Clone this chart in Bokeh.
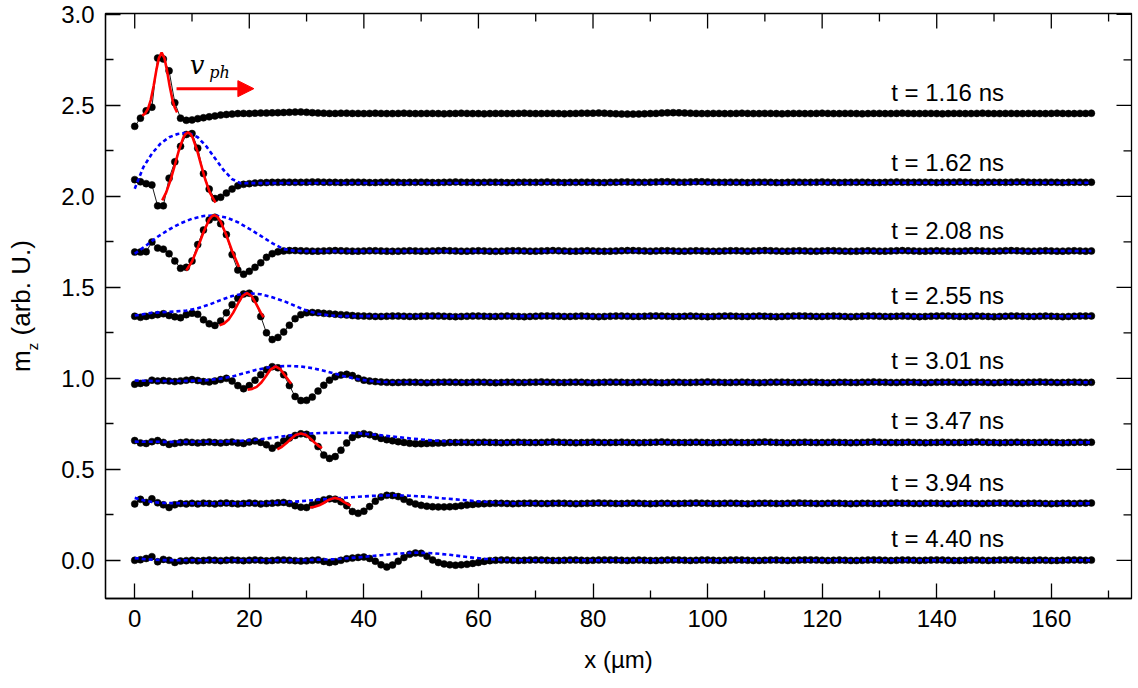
from bokeh.plotting import figure
from bokeh.layouts import row
from bokeh.models import (ColumnDataSource, FixedTicker, Range1d, Label, Div,
                          Arrow, NormalHead, PrintfTickFormatter)
from bokeh.core.properties import value
from bokeh.embed import file_html
from bokeh.resources import INLINE

# ---------------- data ----------------
x_um = list(range(0, 168))

times = ["t = 1.16 ns", "t = 1.62 ns", "t = 2.08 ns", "t = 2.55 ns",
         "t = 3.01 ns", "t = 3.47 ns", "t = 3.94 ns", "t = 4.40 ns"]

mz_116 = [
    2.385, 2.430, 2.470, 2.490, 2.760, 2.755, 2.690, 2.515, 2.430, 2.418,
    2.420, 2.427, 2.432, 2.437, 2.442, 2.447, 2.450, 2.452, 2.455, 2.456,
    2.455, 2.457, 2.458, 2.458, 2.459, 2.460, 2.461, 2.462, 2.463, 2.464,
    2.462, 2.460, 2.458, 2.457, 2.456, 2.456, 2.457, 2.457, 2.456, 2.456,
    2.455, 2.456, 2.457, 2.456, 2.455, 2.455, 2.456, 2.457, 2.456, 2.455,
    2.455, 2.456, 2.456, 2.455, 2.454, 2.455, 2.456, 2.457, 2.456, 2.455,
    2.455, 2.454, 2.455, 2.456, 2.456, 2.455, 2.455, 2.456, 2.457, 2.456,
    2.455, 2.455, 2.456, 2.456, 2.455, 2.454, 2.455, 2.456, 2.457, 2.457,
    2.457, 2.458, 2.457, 2.455, 2.454, 2.453, 2.452, 2.452, 2.453, 2.454,
    2.455, 2.456, 2.458, 2.459, 2.460, 2.459, 2.458, 2.457, 2.456, 2.455,
    2.455, 2.456, 2.456, 2.455, 2.455, 2.456, 2.457, 2.456, 2.455, 2.455,
    2.456, 2.456, 2.455, 2.454, 2.455, 2.456, 2.456, 2.455, 2.455, 2.456,
    2.457, 2.456, 2.455, 2.455, 2.456, 2.456, 2.455, 2.454, 2.455, 2.456,
    2.456, 2.455, 2.455, 2.456, 2.457, 2.456, 2.455, 2.455, 2.456, 2.456,
    2.455, 2.454, 2.455, 2.456, 2.456, 2.455, 2.455, 2.456, 2.457, 2.456,
    2.455, 2.455, 2.456, 2.456, 2.455, 2.455, 2.456, 2.456, 2.455, 2.455,
    2.456, 2.457, 2.456, 2.455, 2.455, 2.456, 2.456, 2.457]

mz_162 = [
    2.092, 2.080, 2.070, 2.063, 1.948, 1.948, 2.100, 2.190, 2.275, 2.340,
    2.345, 2.265, 2.125, 2.040, 1.988, 1.995, 2.018, 2.040, 2.058, 2.066,
    2.070, 2.073, 2.075, 2.076, 2.077, 2.077, 2.078, 2.078, 2.077, 2.077,
    2.078, 2.079, 2.079, 2.078, 2.077, 2.077, 2.076, 2.077, 2.078, 2.078,
    2.077, 2.076, 2.076, 2.077, 2.078, 2.078, 2.077, 2.076, 2.077, 2.077,
    2.078, 2.077, 2.076, 2.076, 2.077, 2.078, 2.079, 2.078, 2.077, 2.077,
    2.076, 2.077, 2.078, 2.078, 2.077, 2.076, 2.076, 2.077, 2.078, 2.077,
    2.077, 2.078, 2.079, 2.078, 2.077, 2.076, 2.077, 2.077, 2.078, 2.078,
    2.077, 2.076, 2.076, 2.077, 2.078, 2.079, 2.079, 2.078, 2.077, 2.077,
    2.078, 2.079, 2.080, 2.080, 2.079, 2.078, 2.078, 2.079, 2.080, 2.080,
    2.079, 2.078, 2.077, 2.077, 2.078, 2.078, 2.077, 2.076, 2.077, 2.078,
    2.078, 2.077, 2.076, 2.076, 2.077, 2.078, 2.078, 2.077, 2.077, 2.078,
    2.079, 2.078, 2.077, 2.076, 2.077, 2.077, 2.078, 2.078, 2.077, 2.076,
    2.076, 2.077, 2.078, 2.079, 2.078, 2.077, 2.077, 2.078, 2.078, 2.077,
    2.076, 2.077, 2.077, 2.078, 2.079, 2.078, 2.077, 2.076, 2.077, 2.078,
    2.078, 2.077, 2.077, 2.078, 2.079, 2.079, 2.078, 2.077, 2.077, 2.078,
    2.078, 2.077, 2.076, 2.077, 2.078, 2.078, 2.077, 2.078]

mz_208 = [
    1.694, 1.694, 1.696, 1.749, 1.716, 1.710, 1.685, 1.645, 1.605, 1.610,
    1.645, 1.735, 1.815, 1.870, 1.885, 1.850, 1.790, 1.680, 1.595, 1.572,
    1.588, 1.610, 1.635, 1.665, 1.685, 1.695, 1.700, 1.702, 1.702, 1.701,
    1.700, 1.699, 1.699, 1.700, 1.701, 1.702, 1.701, 1.700, 1.699, 1.699,
    1.700, 1.701, 1.701, 1.700, 1.699, 1.698, 1.699, 1.700, 1.701, 1.700,
    1.699, 1.699, 1.700, 1.701, 1.702, 1.701, 1.700, 1.699, 1.699, 1.700,
    1.701, 1.700, 1.699, 1.698, 1.699, 1.700, 1.701, 1.701, 1.700, 1.699,
    1.699, 1.700, 1.701, 1.702, 1.701, 1.700, 1.699, 1.699, 1.700, 1.701,
    1.700, 1.699, 1.698, 1.699, 1.700, 1.701, 1.702, 1.702, 1.701, 1.700,
    1.699, 1.700, 1.701, 1.701, 1.700, 1.699, 1.699, 1.700, 1.701, 1.700,
    1.699, 1.698, 1.699, 1.700, 1.701, 1.701, 1.700, 1.699, 1.700, 1.701,
    1.702, 1.701, 1.700, 1.699, 1.699, 1.700, 1.701, 1.700, 1.699, 1.699,
    1.700, 1.701, 1.701, 1.700, 1.699, 1.698, 1.699, 1.700, 1.701, 1.700,
    1.699, 1.699, 1.700, 1.701, 1.702, 1.701, 1.700, 1.699, 1.699, 1.700,
    1.701, 1.700, 1.699, 1.698, 1.699, 1.700, 1.701, 1.701, 1.700, 1.699,
    1.699, 1.700, 1.701, 1.702, 1.701, 1.700, 1.699, 1.699, 1.700, 1.701,
    1.700, 1.699, 1.699, 1.700, 1.701, 1.700, 1.699, 1.700]

mz_255 = [
    1.341, 1.335, 1.340, 1.345, 1.350, 1.355, 1.345, 1.338, 1.333, 1.350,
    1.358, 1.352, 1.322, 1.300, 1.291, 1.315, 1.360, 1.405, 1.440, 1.463,
    1.468, 1.435, 1.340, 1.250, 1.213, 1.225, 1.255, 1.292, 1.328, 1.350,
    1.360, 1.362, 1.360, 1.357, 1.355, 1.352, 1.350, 1.348, 1.345, 1.343,
    1.342, 1.341, 1.340, 1.340, 1.341, 1.342, 1.342, 1.341, 1.340, 1.340,
    1.341, 1.342, 1.343, 1.342, 1.341, 1.340, 1.339, 1.340, 1.341, 1.342,
    1.342, 1.341, 1.340, 1.340, 1.341, 1.342, 1.341, 1.340, 1.339, 1.340,
    1.341, 1.342, 1.343, 1.342, 1.341, 1.340, 1.340, 1.341, 1.342, 1.341,
    1.340, 1.339, 1.340, 1.341, 1.342, 1.342, 1.341, 1.340, 1.340, 1.341,
    1.342, 1.343, 1.342, 1.341, 1.340, 1.340, 1.341, 1.342, 1.341, 1.340,
    1.339, 1.340, 1.341, 1.342, 1.342, 1.341, 1.340, 1.340, 1.341, 1.342,
    1.341, 1.340, 1.339, 1.340, 1.341, 1.342, 1.343, 1.342, 1.341, 1.340,
    1.340, 1.341, 1.342, 1.341, 1.340, 1.339, 1.340, 1.341, 1.342, 1.342,
    1.341, 1.340, 1.340, 1.341, 1.342, 1.341, 1.340, 1.339, 1.340, 1.341,
    1.342, 1.343, 1.342, 1.341, 1.340, 1.340, 1.341, 1.342, 1.341, 1.340,
    1.339, 1.340, 1.341, 1.342, 1.342, 1.341, 1.340, 1.340, 1.341, 1.342,
    1.341, 1.340, 1.339, 1.340, 1.341, 1.342, 1.342, 1.343]

mz_301 = [
    0.968, 0.972, 0.975, 0.990, 0.985, 0.988, 0.985, 0.982, 0.986, 0.990,
    0.993, 0.988, 0.982, 0.980, 0.985, 0.993, 1.000, 0.985, 0.960, 0.943,
    0.960, 0.990, 1.020, 1.047, 1.064, 1.058, 1.020, 0.960, 0.900, 0.878,
    0.879, 0.897, 0.930, 0.962, 0.990, 1.008, 1.018, 1.022, 1.015, 1.000,
    0.990, 0.985, 0.982, 0.980, 0.978, 0.977, 0.977, 0.978, 0.979, 0.978,
    0.977, 0.976, 0.977, 0.978, 0.979, 0.979, 0.978, 0.977, 0.977, 0.978,
    0.979, 0.978, 0.977, 0.976, 0.977, 0.978, 0.978, 0.977, 0.977, 0.978,
    0.979, 0.980, 0.979, 0.978, 0.977, 0.977, 0.978, 0.979, 0.978, 0.977,
    0.976, 0.977, 0.978, 0.979, 0.979, 0.978, 0.977, 0.977, 0.978, 0.979,
    0.978, 0.977, 0.976, 0.977, 0.978, 0.978, 0.977, 0.977, 0.978, 0.979,
    0.980, 0.979, 0.978, 0.977, 0.977, 0.978, 0.979, 0.978, 0.977, 0.976,
    0.977, 0.978, 0.979, 0.979, 0.978, 0.977, 0.977, 0.978, 0.979, 0.978,
    0.977, 0.976, 0.977, 0.978, 0.978, 0.977, 0.977, 0.978, 0.979, 0.980,
    0.979, 0.978, 0.977, 0.977, 0.978, 0.979, 0.978, 0.977, 0.976, 0.977,
    0.978, 0.979, 0.979, 0.978, 0.977, 0.977, 0.978, 0.979, 0.978, 0.977,
    0.976, 0.977, 0.978, 0.978, 0.977, 0.977, 0.978, 0.979, 0.980, 0.979,
    0.978, 0.977, 0.977, 0.978, 0.979, 0.978, 0.977, 0.978]

mz_347 = [
    0.658, 0.645, 0.642, 0.652, 0.658, 0.648, 0.637, 0.642, 0.647, 0.650,
    0.648, 0.645, 0.648, 0.650, 0.647, 0.645, 0.648, 0.650, 0.645, 0.642,
    0.650, 0.656, 0.648, 0.635, 0.616, 0.632, 0.655, 0.672, 0.686, 0.695,
    0.692, 0.672, 0.625, 0.578, 0.560, 0.570, 0.605, 0.645, 0.675, 0.690,
    0.696, 0.690, 0.680, 0.670, 0.663, 0.657, 0.652, 0.648, 0.643, 0.641,
    0.641, 0.642, 0.643, 0.644, 0.645, 0.647, 0.647, 0.648, 0.648, 0.647,
    0.648, 0.649, 0.648, 0.647, 0.646, 0.647, 0.648, 0.649, 0.648, 0.647,
    0.647, 0.648, 0.649, 0.650, 0.649, 0.648, 0.647, 0.646, 0.647, 0.648,
    0.649, 0.648, 0.647, 0.647, 0.648, 0.649, 0.648, 0.647, 0.646, 0.647,
    0.648, 0.649, 0.650, 0.649, 0.648, 0.647, 0.647, 0.648, 0.649, 0.648,
    0.647, 0.646, 0.647, 0.648, 0.649, 0.648, 0.647, 0.647, 0.648, 0.649,
    0.650, 0.649, 0.648, 0.647, 0.646, 0.647, 0.648, 0.649, 0.648, 0.647,
    0.647, 0.648, 0.649, 0.648, 0.647, 0.646, 0.647, 0.648, 0.649, 0.650,
    0.649, 0.648, 0.647, 0.647, 0.648, 0.649, 0.648, 0.647, 0.646, 0.647,
    0.648, 0.649, 0.648, 0.647, 0.647, 0.648, 0.649, 0.650, 0.649, 0.648,
    0.647, 0.646, 0.647, 0.648, 0.649, 0.648, 0.647, 0.647, 0.648, 0.649,
    0.648, 0.647, 0.646, 0.647, 0.648, 0.649, 0.648, 0.649]

mz_394 = [
    0.310, 0.335, 0.318, 0.338, 0.316, 0.305, 0.290, 0.305, 0.312, 0.310,
    0.313, 0.310, 0.314, 0.312, 0.310, 0.313, 0.315, 0.312, 0.310, 0.312,
    0.315, 0.313, 0.310, 0.312, 0.314, 0.316, 0.318, 0.312, 0.300, 0.292,
    0.290, 0.305, 0.322, 0.332, 0.338, 0.336, 0.322, 0.300, 0.268, 0.258,
    0.270, 0.295, 0.325, 0.348, 0.357, 0.356, 0.350, 0.335, 0.320, 0.310,
    0.302, 0.297, 0.294, 0.293, 0.293, 0.294, 0.296, 0.300, 0.304, 0.307,
    0.310, 0.311, 0.312, 0.313, 0.313, 0.312, 0.311, 0.312, 0.313, 0.314,
    0.313, 0.312, 0.312, 0.313, 0.314, 0.313, 0.312, 0.311, 0.312, 0.313,
    0.314, 0.315, 0.314, 0.313, 0.312, 0.312, 0.313, 0.314, 0.313, 0.312,
    0.311, 0.312, 0.313, 0.313, 0.312, 0.312, 0.313, 0.314, 0.315, 0.314,
    0.313, 0.312, 0.312, 0.313, 0.314, 0.313, 0.312, 0.311, 0.312, 0.313,
    0.314, 0.313, 0.312, 0.312, 0.313, 0.314, 0.315, 0.314, 0.313, 0.312,
    0.312, 0.313, 0.314, 0.313, 0.312, 0.311, 0.312, 0.313, 0.313, 0.312,
    0.312, 0.313, 0.314, 0.315, 0.314, 0.313, 0.312, 0.312, 0.313, 0.314,
    0.313, 0.312, 0.311, 0.312, 0.313, 0.314, 0.313, 0.312, 0.312, 0.313,
    0.314, 0.315, 0.314, 0.313, 0.312, 0.312, 0.313, 0.314, 0.313, 0.312,
    0.311, 0.312, 0.313, 0.313, 0.312, 0.313, 0.314, 0.315]

mz_440 = [
    0.000, 0.003, 0.010, 0.020, -0.008, 0.005, 0.000, -0.012, -0.004, -0.002,
    0.000, -0.003, -0.001, 0.001, 0.000, -0.002, 0.000, 0.002, 0.000, -0.002,
    0.000, 0.002, 0.000, -0.003, -0.001, 0.001, 0.002, 0.000, -0.002, -0.004,
    -0.003, 0.000, 0.002, -0.006, -0.012, -0.008, 0.000, 0.008, 0.012, 0.016,
    0.018, 0.010, -0.005, -0.025, -0.037, -0.026, -0.005, 0.015, 0.033, 0.040,
    0.038, 0.022, 0.002, -0.012, -0.020, -0.025, -0.027, -0.025, -0.022, -0.017,
    -0.012, -0.006, -0.002, 0.000, 0.001, 0.001, 0.000, -0.001, 0.000, 0.001,
    0.002, 0.001, 0.000, -0.001, -0.001, 0.000, 0.001, 0.001, 0.000, -0.001,
    0.000, 0.001, 0.002, 0.002, 0.001, 0.000, -0.001, 0.000, 0.001, 0.000,
    -0.001, -0.001, 0.000, 0.001, 0.002, 0.001, 0.000, -0.001, 0.000, 0.001,
    0.001, 0.000, -0.001, 0.000, 0.001, 0.002, 0.001, 0.000, -0.001, -0.001,
    0.000, 0.001, 0.001, 0.000, -0.001, 0.000, 0.001, 0.002, 0.002, 0.001,
    0.000, -0.001, 0.000, 0.001, 0.000, -0.001, -0.001, 0.000, 0.001, 0.002,
    0.001, 0.000, -0.001, 0.000, 0.001, 0.001, 0.000, -0.001, 0.000, 0.001,
    0.002, 0.001, 0.000, -0.001, -0.001, 0.000, 0.001, 0.001, 0.000, -0.001,
    0.000, 0.001, 0.002, 0.002, 0.001, 0.000, -0.001, 0.000, 0.001, 0.000,
    -0.001, -0.001, 0.000, 0.001, 0.002, 0.001, 0.000, 0.001]

# dashed envelopes
env_162_x = [0, 1.5, 3, 4.5, 6, 7.5, 9.3, 11, 12.5, 14, 15.5, 17, 18.5, 20, 167]
env_162_y = [2.042, 2.160, 2.235, 2.290, 2.325, 2.343, 2.350, 2.325, 2.275, 2.210, 2.145, 2.095, 2.072, 2.073, 2.075]
env_208_x = [0, 2, 4, 6, 8, 10, 12, 13.9, 16, 18, 20, 22, 24, 26, 28, 30, 167]
env_208_y = [1.685, 1.730, 1.778, 1.818, 1.852, 1.877, 1.892, 1.896, 1.884, 1.858, 1.822, 1.783, 1.743, 1.710, 1.700, 1.699, 1.700]
env_255_x = [0, 3, 6, 9, 11, 13, 15, 17, 19.6, 22, 24, 26, 28, 30, 32, 34, 36, 167]
env_255_y = [1.345, 1.360, 1.365, 1.372, 1.385, 1.405, 1.430, 1.452, 1.469, 1.462, 1.445, 1.425, 1.398, 1.372, 1.355, 1.346, 1.342, 1.341]
env_301_x = [0, 4, 8, 12, 15, 17, 19, 21, 23, 25, 27, 29, 31, 33, 35, 37, 39, 41, 43, 167]
env_301_y = [0.988, 0.985, 0.985, 0.988, 0.998, 1.010, 1.027, 1.045, 1.058, 1.066, 1.068, 1.065, 1.056, 1.042, 1.025, 1.008, 0.995, 0.986, 0.980, 0.978]
env_347_x = [0, 5, 10, 15, 18, 21, 24, 27, 30, 33, 36, 39, 42, 45, 48, 51, 54, 57, 60, 167]
env_347_y = [0.652, 0.651, 0.651, 0.652, 0.655, 0.662, 0.673, 0.686, 0.696, 0.700, 0.701, 0.698, 0.690, 0.680, 0.670, 0.661, 0.654, 0.650, 0.648, 0.648]
env_394_x = [0, 1.5, 3, 5, 10, 15, 20, 24, 27, 30, 33, 36, 39, 42, 45, 48, 51, 54, 57, 60, 63, 66, 167]
env_394_y = [0.343, 0.330, 0.320, 0.315, 0.313, 0.313, 0.313, 0.315, 0.320, 0.327, 0.335, 0.342, 0.349, 0.355, 0.357, 0.355, 0.349, 0.340, 0.332, 0.324, 0.317, 0.313, 0.313]
env_440_x = [0, 2, 5, 10, 20, 30, 35, 39, 43, 46, 49, 52, 55, 58, 61, 64, 68, 167]
env_440_y = [0.012, 0.005, 0.001, 0.000, 0.000, 0.001, 0.006, 0.016, 0.028, 0.037, 0.042, 0.039, 0.030, 0.018, 0.008, 0.002, 0.000, 0.000]

# red peak fits
fit_116_x = [1.3, 1.8, 2.3, 2.8, 3.3, 3.8, 4.2, 4.7, 5.2, 5.6, 6.1, 6.6, 7.0, 7.4]
fit_116_y = [2.444, 2.455, 2.480, 2.529, 2.607, 2.698, 2.758, 2.790, 2.758, 2.698, 2.607, 2.529, 2.487, 2.462]
fit_162_x = [4.8, 5.5, 6.3, 7.0, 7.7, 8.5, 8.9, 9.3, 9.7, 10.1, 10.9, 11.6, 12.3, 13.1, 14.1]
fit_162_y = [1.978, 2.022, 2.094, 2.172, 2.252, 2.324, 2.344, 2.351, 2.344, 2.324, 2.252, 2.172, 2.094, 2.022, 1.965]
fit_208_x = [9.0, 10.0, 11.0, 12.0, 13.0, 13.45, 13.9, 14.4, 15.0, 16.0, 17.0, 18.2]
fit_208_y = [1.593, 1.642, 1.717, 1.803, 1.872, 1.890, 1.896, 1.889, 1.861, 1.786, 1.700, 1.612]
fit_255_x = [14.8, 15.6, 16.4, 17.2, 18.0, 18.8, 19.6, 20.4, 21.2, 22.0, 22.5]
fit_255_y = [1.291, 1.301, 1.323, 1.361, 1.409, 1.452, 1.469, 1.452, 1.409, 1.361, 1.336]
fit_301_x = [19.7, 20.5, 21.3, 22.1, 22.9, 23.7, 24.6, 25.4, 26.2, 27.3]
fit_301_y = [0.938, 0.942, 0.953, 0.977, 1.012, 1.048, 1.066, 1.051, 1.017, 0.970]
fit_347_x = [24.9, 25.7, 26.5, 27.3, 28.1, 29.0, 29.9, 30.7, 31.5, 32.2, 32.7]
fit_347_y = [0.610, 0.624, 0.644, 0.668, 0.688, 0.697, 0.688, 0.668, 0.644, 0.626, 0.616]
fit_394_x = [30.6, 31.4, 32.2, 33.0, 33.8, 34.9, 35.7, 36.5, 37.2, 37.7]
fit_394_y = [0.290, 0.294, 0.302, 0.315, 0.331, 0.343, 0.337, 0.321, 0.308, 0.300]

x_ticks = [0, 20, 40, 60, 80, 100, 120, 140, 160]
x_minor = [10, 30, 50, 70, 90, 110, 130, 150, 170]
y_ticks = [0.0, 0.5, 1.0, 1.5, 2.0, 2.5, 3.0]
y_minor = [0.25, 0.75, 1.25, 1.75, 2.25, 2.75]

# ---------------- positions / styles ----------------
X0, X1 = -5.1, 174.0
Y0, Y1 = -0.21, 3.005
label_x = [141.9] * 8
label_y = [2.573, 2.188, 1.813, 1.456, 1.099, 0.769, 0.430, 0.119]
FONT = "Liberation Sans"
MAJ_PX, MIN_PX = 15, 8

traces = [mz_116, mz_162, mz_208, mz_255, mz_301, mz_347, mz_394, mz_440]
envelopes = [(env_162_x, env_162_y), (env_208_x, env_208_y), (env_255_x, env_255_y),
             (env_301_x, env_301_y), (env_347_x, env_347_y), (env_394_x, env_394_y),
             (env_440_x, env_440_y)]
fits = [(fit_116_x, fit_116_y), (fit_162_x, fit_162_y), (fit_208_x, fit_208_y),
        (fit_255_x, fit_255_y), (fit_301_x, fit_301_y), (fit_347_x, fit_347_y),
        (fit_394_x, fit_394_y)]

TITLE_W = 40                      # width of the y-title strip left of the figure
W, H = 1138 - TITLE_W, 688
BL, BR, BT, BB = 105 - TITLE_W, 7, 13, 90
p = figure(width=W, height=H, output_backend="svg", toolbar_location=None,
           x_range=Range1d(X0, X1), y_range=Range1d(Y0, Y1),
           min_border_left=BL, min_border_right=BR, min_border_top=BT, min_border_bottom=BB,
           background_fill_color="white", border_fill_color="white")
p.xgrid.visible = False
p.ygrid.visible = False
p.outline_line_color = "black"
p.outline_line_width = 1.3


def style_axis(ax, ticks, minor):
    ax.ticker = FixedTicker(ticks=ticks, minor_ticks=minor)
    ax.major_tick_in = MAJ_PX
    ax.major_tick_out = 0
    ax.minor_tick_in = MIN_PX
    ax.minor_tick_out = 0
    ax.axis_line_color = "black"
    ax.axis_line_width = 1.3
    ax.major_tick_line_color = "black"
    ax.major_tick_line_width = 1.3
    ax.minor_tick_line_color = "black"
    ax.minor_tick_line_width = 1.3
    ax.major_label_text_font = FONT
    ax.major_label_text_color = "black"
    ax.major_label_text_font_size = "24px"
    ax.major_label_standoff = 11


xa = p.xaxis[0]
style_axis(xa, x_ticks, x_minor)
xa.axis_label = "x (µm)"
xa.axis_label_text_font = FONT
xa.axis_label_text_font_size = "24px"
xa.axis_label_text_font_style = "normal"
xa.axis_label_text_color = "black"
xa.axis_label_standoff = 16

ya = p.yaxis[0]
style_axis(ya, y_ticks, y_minor)
ya.formatter = PrintfTickFormatter(format="%.1f")

# mirrored inward ticks on top and right frame edges
px_per_x = (W - BL - BR) / (X1 - X0)
px_per_y = (H - BT - BB) / (Y1 - Y0)
tx = x_ticks + x_minor
tlen = [MAJ_PX] * len(x_ticks) + [MIN_PX] * len(x_minor)
p.segment(x0=tx, y0=[Y1] * len(tx), x1=tx, y1=[Y1 - l / px_per_y for l in tlen],
          line_color="black", line_width=1.3)
ty = y_ticks + y_minor
tleny = [MAJ_PX] * len(y_ticks) + [MIN_PX] * len(y_minor)
p.segment(x0=[X1] * len(ty), y0=ty, x1=[X1 - l / px_per_x for l in tleny], y1=ty,
          line_color="black", line_width=1.3)

# data lines + points
for mz in traces:
    xs = x_um[:len(mz)]
    src = ColumnDataSource(dict(x=xs, y=mz))
    p.line("x", "y", source=src, line_color="#1a1a1a", line_width=1)
    p.scatter("x", "y", source=src, size=7, fill_color="black", line_color="black", line_width=0.5)

for ex, ey in envelopes:
    p.line(ex, ey, line_color="#0000FF", line_width=2.6, line_dash="4 3")

for fx, fy in fits:
    p.line(fx, fy, line_color="#FF0000", line_width=2.6)

# time labels
tsrc = ColumnDataSource(dict(x=label_x, y=label_y, t=times))
p.text("x", "y", text="t", source=tsrc, text_font=value(FONT), text_font_size="24px",
       text_align="center", text_baseline="alphabetic", text_color="black")

# phase velocity arrow
p.add_layout(Arrow(end=NormalHead(size=16, fill_color="#FF0000", line_color="#FF0000", line_width=1),
                   x_start=7.3, y_start=2.592, x_end=20.8, y_end=2.592,
                   line_color="#FF0000", line_width=3))
p.add_layout(Label(x=9.6, y=2.722, text="v", text_font="DejaVu Serif", text_font_style="italic",
                   text_font_size="26px", text_baseline="alphabetic", text_align="left", text_color="black"))
p.add_layout(Label(x=13.0, y=2.680, text="ph", text_font="DejaVu Serif", text_font_style="italic",
                   text_font_size="16px", text_baseline="alphabetic", text_align="left", text_color="black"))

# y-axis title (rotated, with subscript) in a narrow strip left of the plot
ytitle_html = (
    '<div style="position:relative;width:%dpx;height:%dpx;overflow:visible;">'
    '<div style="position:absolute;left:21px;top:306px;transform:translate(-50%%,-50%%) rotate(-90deg);'
    'white-space:nowrap;font-family:\'Liberation Sans\',Arial,sans-serif;font-size:26px;line-height:30px;color:#000;">'
    'm<sub style="font-size:15px;vertical-align:-8px;line-height:0;">z</sub> (arb. U.)</div></div>'
) % (TITLE_W, H)
ytitle = Div(text=ytitle_html, width=TITLE_W, height=H, margin=(0, 0, 0, 0))

layout = row(ytitle, p, spacing=0)
open("out.html", "w").write(file_html(layout, INLINE))
